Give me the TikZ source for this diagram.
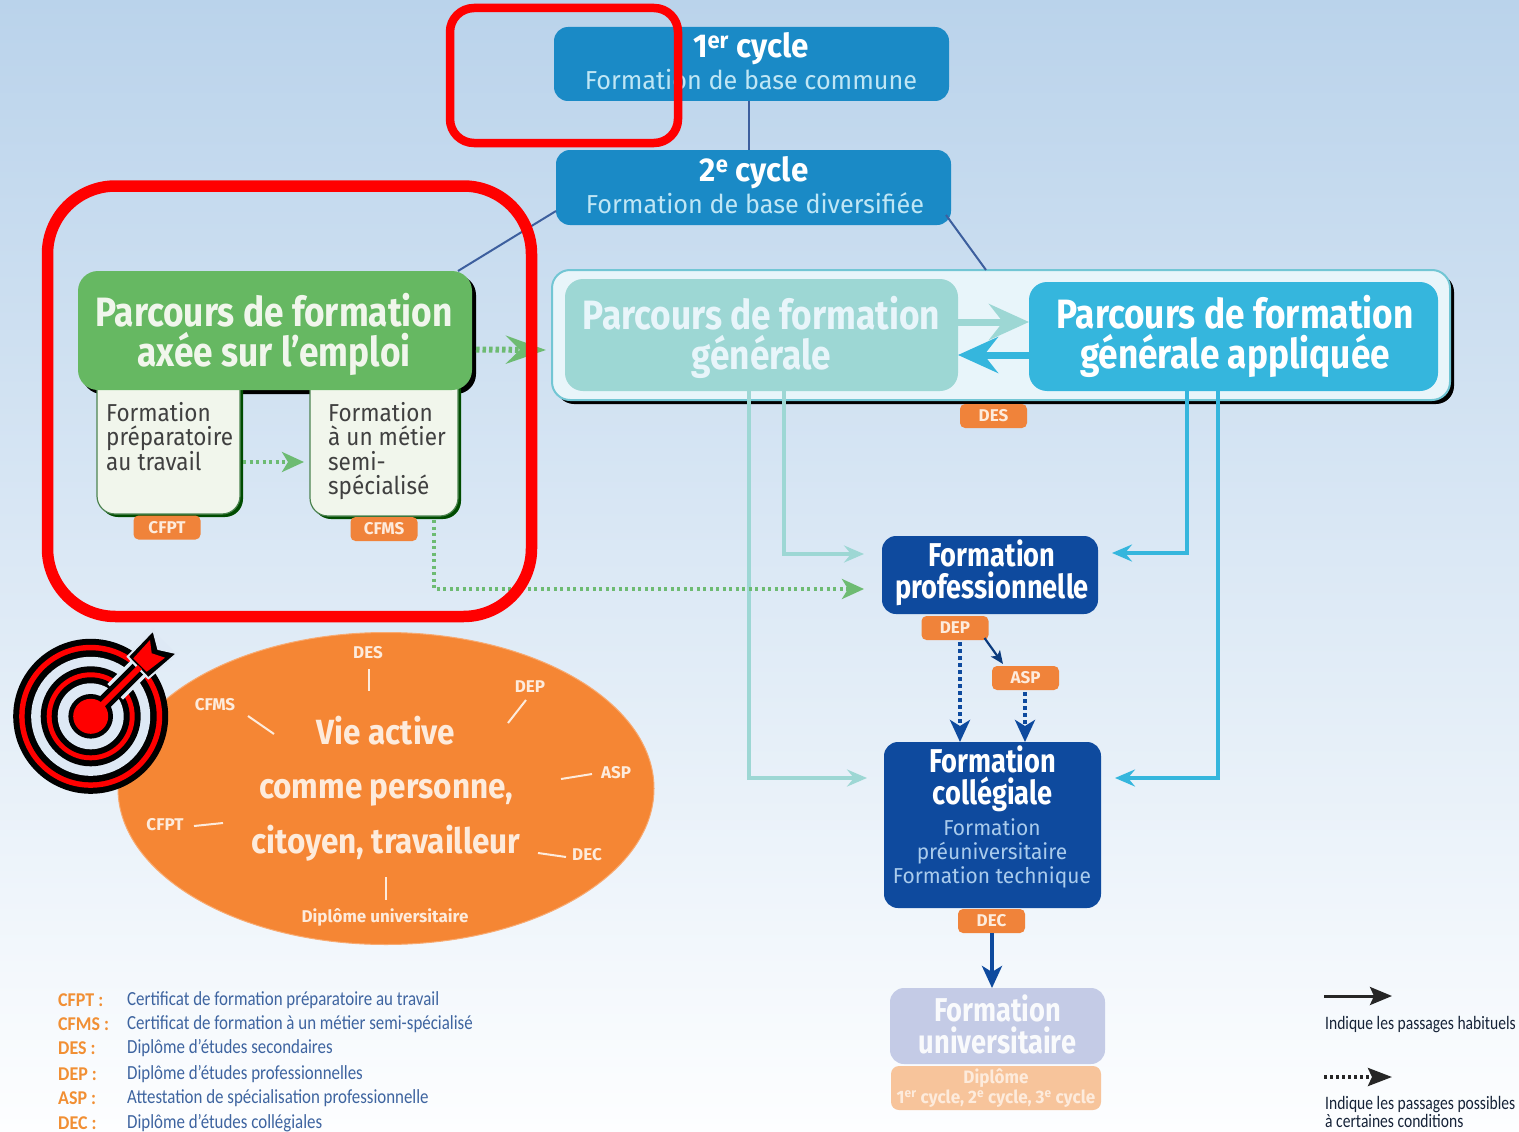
\documentclass[tikz,border=0pt]{standalone}
\usepackage{fontspec}
\usetikzlibrary{arrows.meta,calc,shapes.geometric}
\setmainfont{Fira Sans}
\newfontfamily\condb[FakeStretch=0.86]{Fira Sans Bold}
\newfontfamily\condm[FakeStretch=0.825]{Fira Sans Bold}
\newfontfamily\conde[FakeStretch=0.90]{Fira Sans Bold}
\newfontfamily\condc[FakeStretch=0.95]{Fira Sans Bold}
\newfontfamily\condl[FakeStretch=1.0]{Fira Sans Bold}
\newfontfamily\reg[FakeStretch=0.97]{Fira Sans}
\newfontfamily\regn[FakeStretch=0.92]{Fira Sans}
\newfontfamily\lege[FakeStretch=0.845]{Carlito}
\newfontfamily\leger[FakeStretch=0.82]{Carlito}
\newfontfamily\legeb[FakeStretch=0.92]{Carlito Bold}
\definecolor{cyc}{HTML}{1A8AC6}
\definecolor{cyct}{HTML}{BFE6F5}
\definecolor{grn}{HTML}{66B862}
\definecolor{grnd}{HTML}{6DBB72}
\definecolor{subf}{HTML}{F1F6EC}
\definecolor{outf}{HTML}{E8F5FA}
\definecolor{outb}{HTML}{72C6D4}
\definecolor{teal}{HTML}{9DD7D4}
\definecolor{sky}{HTML}{35B6DD}
\definecolor{org}{HTML}{F0833A}
\definecolor{navy}{HTML}{0E4A9E}
\definecolor{navyt}{HTML}{A9CBEC}
\definecolor{univc}{HTML}{C4CBE6}
\definecolor{diplc}{HTML}{F7C49B}
\definecolor{ell}{HTML}{F58634}
\definecolor{line}{HTML}{3D5F9E}
\definecolor{ltxt}{HTML}{3E64A0}
\definecolor{halo}{HTML}{DEE9F5}
\definecolor{wtxt}{HTML}{FDEBDC}
\definecolor{bgt}{HTML}{BAD3EB}
\definecolor{bgm}{HTML}{D8E6F3}
\definecolor{bgb}{HTML}{FDFEFF}
\tikzset{
 x=1pt,y=-1pt,
 wh/.style 2 args={minimum width=#1pt,minimum height=#2pt,inner sep=0pt,outer sep=0pt},
 boxr/.style={rounded corners=14pt,align=center},
 shad/.style={preaction={fill=black,transform canvas={xshift=#1pt,yshift=-#1pt}}},
 subshad/.style={preaction={fill=black!70!green,transform canvas={xshift=3pt,yshift=-3pt}}},
 cyclebox/.style={boxr,fill=cyc},
 cyt/.style={text=white,inner sep=0pt,font=\condc\fontsize{33}{33}\selectfont},
 cys/.style={text=cyct,inner sep=0pt,font=\reg\fontsize{26}{30}\selectfont},
 badge/.style={fill=org,rounded corners=5pt,text=wtxt,wh={67}{24},font=\condl\fontsize{17}{17}\selectfont},
 subbox/.style={fill=subf,draw=grnd!70!black,line width=1.2pt,rounded corners=18pt},
 subtext/.style={anchor=north west,inner sep=0pt,align=left,text=black!75,font=\regn\fontsize{24.5}{24.5}\selectfont},
 bigt/.style={inner sep=0pt,font=\condb\fontsize{41}{40}\selectfont,align=center},
 midt/.style={inner sep=0pt,font=\condm\fontsize{33}{32}\selectfont,align=center},
 cost/.style={inner sep=0pt,text=navyt,align=center,font=\reg\fontsize{21.6}{24}\selectfont},
 elt/.style={text=wtxt,font=\condl\fontsize{17}{17}\selectfont,inner sep=0pt},
 tick/.style={draw=wtxt,line width=2pt},
 lk/.style={draw=line,line width=2pt},
 pale/.style={line width=3.2pt,-{Stealth[length=20pt,width=17pt,inset=7pt]}},
 dotg/.style={grnd,line width=3.6pt,dash pattern=on 3pt off 3.5pt,-{Stealth[length=22pt,width=20pt,inset=6pt]}},
 dotbig/.style={grnd,line width=6pt,dash pattern=on 3.5pt off 3pt,-{Stealth[length=40pt,width=28pt,inset=14pt]}},
 dotn/.style={navy,line width=4pt,dash pattern=on 4pt off 3pt,-{Stealth[length=22pt,width=20pt,inset=6pt]}},
 thickar/.style={line width=7pt,-{Stealth[length=40pt,width=36pt,inset=14pt]}},
 redbox/.style={draw=red,fill=none},
 legl/.style={anchor=west,inner sep=0pt,text=org!90!yellow,font=\legeb\fontsize{19.5}{20}\selectfont},
 legd/.style={anchor=west,inner sep=0pt,text=ltxt,font=\lege\fontsize{20}{20}\selectfont},
 legr/.style={anchor=north west,inner sep=0pt,align=left,text=black!65!ltxt,font=\leger\fontsize{19}{18}\selectfont},
}
\begin{document}
\begin{tikzpicture}
\useasboundingbox (0,0) rectangle (1519,1132);
\shade[top color=bgt,middle color=bgm,bottom color=bgb] (0,0) rectangle (1519,1132);

% top cycles
\node[cyclebox,wh={395}{74}] (c1) at (751.5,64) {};
\node[cyt] (c1t) at (751,49) {1\textsuperscript{er} cycle};
\node[cys] (c1s) at (751,80) {Formation de base commune};
\node[cyclebox,wh={395}{75}] (c2) at (753.5,187.5) {};
\node[cyt] (c2t) at (754,173) {2\textsuperscript{e} cycle};
\node[cys] (c2s) at (755,203) {Formation de base diversifiée};

% employment path
\node[fill=black,rounded corners=20pt,wh={394}{119}] (grs) at (279,334.5) {};
\node[subbox,subshad,wh={143}{144}] (sa) at (168.5,442) {};
\node[subbox,subshad,wh={148}{146}] (sb) at (384,443) {};
\node[fill=grn,rounded corners=20pt,wh={394}{119}] (gr) at (275,330.5) {};
\node[bigt,text=subf] (grt) at (274,334) {Parcours de formation\\axée sur l’emploi};
\node[subtext] (sat) at (106,402) {Formation\\préparatoire\\au travail};
\node[subtext] (sbt) at (328,402) {Formation\\à un métier\\semi-\\spécialisé};
\node[badge] (cfpt) at (167,527.5) {CFPT};
\node[badge] (cfms) at (384,529) {CFMS};

% general path
\node[fill=outf,draw=outb,line width=2pt,rounded corners=18pt,shad=4,wh={898}{130}] (ou) at (1001,335) {};
\node[fill=teal,rounded corners=18pt,wh={393}{112}] (ge) at (761.5,335) {};
\node[bigt,text=outf] (get) at (761.5,337.5) {Parcours de formation\\générale};
\node[fill=sky,rounded corners=18pt,wh={409}{109}] (ap) at (1233.5,336.5) {};
\node[bigt,text=white] (apt) at (1235,336.5) {Parcours de formation\\générale appliquée};
\node[badge] (des) at (993.5,416) {DES};

% formations
\node[fill=navy,boxr,wh={216}{78}] (pr) at (990,575) {};
\node[midt,text=white] (prt) at (992,573) {Formation\\professionnelle};
\node[badge] (dep) at (955,628) {DEP};
\node[badge] (asp) at (1025.5,678) {ASP};
\node[fill=navy,boxr,wh={217}{166}] (co) at (992.5,825) {};
\node[midt,text=white] (cot) at (992.5,779) {Formation\\collégiale};
\node[cost] (cos) at (992,853) {Formation\\préuniversitaire\\Formation technique};
\node[badge] (dec) at (991.5,921) {DEC};
\node[fill=univc,boxr,wh={215}{76}] (un) at (997.5,1026) {};
\node[midt,text=white!90!univc] (unt) at (997.5,1024) {Formation\\universitaire};
\node[fill=diplc,rounded corners=8pt,wh={210}{44},align=center,text=wtxt,font=\condc\fontsize{18}{20}\selectfont] (di) at (996,1088) {Diplôme\\1\textsuperscript{er} cycle, 2\textsuperscript{e} cycle, 3\textsuperscript{e} cycle};

% connectors
\coordinate (v0) at (749,125);
\coordinate (v1) at (784,554);
\coordinate (v2) at (749,778);
\coordinate (v3) at (1187,553);
\coordinate (v4) at (1218,778);
\coordinate (v5) at (434,589);
\coordinate (m1) at (960,640);
\coordinate (m2) at (1025,690);
\coordinate (m3) at (992,933);
\coordinate (e1) at (458,271);
\coordinate (e2) at (556,211);
\coordinate (e3) at (946,215);
\coordinate (e4) at (986,270);
\coordinate (g1) at (958,322);
\coordinate (g2) at (1029,355);
\draw[lk] (c1.south -| v0) -- (c2.north -| v0);
\draw[lk] (e2) -- (e1);
\draw[lk] (e3) -- (e4);
\draw[teal,pale] (ge.south -| v1) -- (v1) -- ($(pr.west |- v1)+(-18,0)$);
\draw[teal,pale] (ge.south -| v2) -- (v2) -- ($(co.west |- v2)+(-17,0)$);
\draw[sky,pale] (ap.south -| v3) -- (v3) -- ($(pr.east |- v3)+(14,0)$);
\draw[sky,pale] (ap.south -| v4) -- (v4) -- ($(co.east |- v4)+(14,0)$);
\draw[teal,thickar] (g1) -- (ap.west |- g1);
\draw[sky,thickar] (g2) -- (ge.east |- g2);
\draw[dotbig] ($(gr.east)+(4,19)$) -- ($(ou.west)+(-6,15)$);
\draw[dotg] ($(sa.east)+(3,20)$) -- ($(sb.west)+(-6,19)$);
\draw[dotg] (sb.south -| v5) ++(0,4) -- (v5) -- ($(pr.west |- v5)+(-18,0)$);
\draw[dotn] (dep.south -| m1) ++(0,2) -- (co.north -| m1);
\draw[dotn] (asp.south -| m2) ++(0,2) -- (co.north -| m2);
\draw[navy!80!black,line width=2.2pt,-{Stealth[length=13pt,width=11pt,inset=3pt]}] ($(dep.south east)+(-4,-2)$) -- ($(asp.north west)+(11,-2)$);
\draw[navy,line width=4pt,-{Stealth[length=22pt,width=20pt,inset=6pt]}] (m3) -- (un.north -| m3);

% life ellipse
\node[ellipse,fill=ell,draw=ell!70!white,line width=1pt,minimum width=536pt,minimum height=312pt,inner sep=0pt,text=wtxt,align=center,font=\conde\fontsize{35}{54.5}\selectfont] (vie) at (386,788.5) {Vie active\\comme personne,\\citoyen, travailleur};
\node[elt] (e-des) at (368,653) {DES};
\node[elt] (e-dep) at (530,687) {DEP};
\node[elt] (e-asp) at (616,773) {ASP};
\node[elt] (e-dec) at (587,855) {DEC};
\node[elt] (e-dip) at (385,917) {Diplôme universitaire};
\node[elt] (e-cfpt) at (165,825) {CFPT};
\node[elt] (e-cfms) at (215,705) {CFMS};
\coordinate (t1) at (369,669); \coordinate (t1b) at (369,691);
\coordinate (t2) at (526,700); \coordinate (t2b) at (508,723);
\coordinate (t3) at (592,774); \coordinate (t3b) at (561,779);
\coordinate (t4) at (566,857); \coordinate (t4b) at (538,853);
\coordinate (t5) at (386,877); \coordinate (t5b) at (386,900);
\coordinate (t6) at (194,826); \coordinate (t6b) at (223,823);
\coordinate (t7) at (248,716); \coordinate (t7b) at (274,734);
\foreach \a in {1,...,7}{\draw[tick] (t\a) -- (t\a b);}

% legend
\node[legl] (l1) at (58,1000) {CFPT :};
\node[legl] (l2) at (58,1024) {CFMS :};
\node[legl] (l3) at (58,1048) {DES :};
\node[legl] (l4) at (58,1074) {DEP :};
\node[legl] (l5) at (58,1098) {ASP :};
\node[legl] (l6) at (58,1123) {DEC :};
\node[legd] (d1) at (127,1000) {Certificat de formation préparatoire au travail};
\node[legd] (d2) at (127,1024) {Certificat de formation à un métier semi-spécialisé};
\node[legd] (d3) at (127,1048) {Diplôme d’études secondaires};
\node[legd] (d4) at (127,1074) {Diplôme d’études professionnelles};
\node[legd] (d5) at (127,1098) {Attestation de spécialisation professionnelle};
\node[legd] (d6) at (127,1123) {Diplôme d’études collégiales};

\coordinate (a1) at (1324,996); \coordinate (a1b) at (1392,996);
\coordinate (a2) at (1324,1077); \coordinate (a2b) at (1392,1077);
\draw[black!85,line width=3pt,-{Stealth[length=22pt,width=18pt,inset=4pt]}] (a1) -- (a1b);
\draw[black!85,line width=3.5pt,dash pattern=on 3pt off 3pt,-{Stealth[length=24pt,width=18pt,inset=4pt]}] (a2) -- (a2b);
\node[legr] (r1) at (1325,1016) {Indique les passages habituels};
\node[legr] (r2) at (1325,1096) {Indique les passages possibles\\à certaines conditions};

% target
\begin{scope}[shift={(90.7,716.3)}]
 \fill[black] (0,0) circle (77.5);
 \fill[red] (0,0) circle (71.5);
 \fill[black] (0,0) circle (66);
 \fill[halo] (0,0) circle (59.5);
 \fill[black] (0,0) circle (50);
 \fill[red] (0,0) circle (44);
 \fill[black] (0,0) circle (39);
 \fill[halo] (0,0) circle (33);
 \fill[black] (0,0) circle (22.3);
 \fill[red] (0,0) circle (17.5);
\end{scope}
\coordinate (s0) at (90.7,716.3);
\coordinate (s1) at (178,629);
\draw[halo,line width=22pt] ($(s0)!0.28!(s1)$) -- ($(s0)!0.85!(s1)$);
\draw[black,line width=15pt] ($(s0)!0.15!(s1)$) -- (138,669);
\fill[black,draw=halo,line width=2pt,line join=miter] (153.3,630) -- (158.3,649) -- (177.3,653.3) -- (148.3,678.3) -- (127.7,656.7) -- cycle;
\draw[red,line width=6pt] (s0) -- (140,667);
\fill[red] (150,640) -- (151.7,653.3) -- (165,657.7) -- (146.7,671.7) -- (133.3,658.3) -- cycle;

% red frames
\draw[redbox,line width=8.5pt,rounded corners=24pt] (450,8) rectangle (678,143);
\draw[redbox,line width=11.5pt,rounded corners=68pt] (47.5,186) rectangle (531.5,616.5);
\end{tikzpicture}
\end{document}
